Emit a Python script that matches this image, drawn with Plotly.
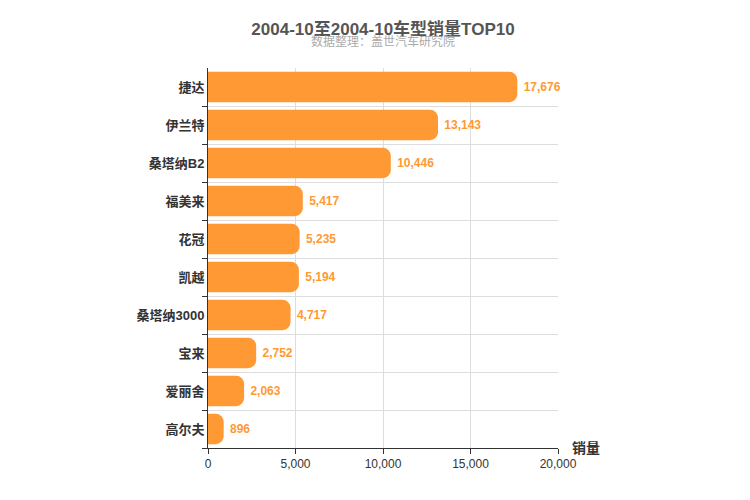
import plotly.graph_objects as go

# car models, top to bottom as in the chart
models = ['捷达', '伊兰特', '桑塔纳B2', '福美来', '花冠', '凯越', '桑塔纳3000', '宝来', '爱丽舍', '高尔夫']
sales = [17676, 13143, 10446, 5417, 5235, 5194, 4717, 2752, 2063, 896]

bar_color = '#ff9933'

fig = go.Figure()
fig.add_trace(go.Bar(
    x=sales,
    y=models,
    orientation='h',
    marker=dict(color=bar_color, cornerradius=8, line=dict(width=0)),
    text=['<b> {:,}</b>'.format(v) for v in sales],
    textposition='outside',
    textfont=dict(color=bar_color, size=12, family='Arial'),
    cliponaxis=False,
))

fig.update_layout(
    width=750, height=500,
    margin=dict(l=200, r=200, t=60, b=60, autoexpand=False),
    plot_bgcolor='white', paper_bgcolor='white',
    bargap=0.2,
    showlegend=False,
    font=dict(family='Arial, Noto Sans CJK SC', size=12, color='#333'),
    title=dict(text='<b>2004-10至2004-10车型销量TOP10</b>', x=0.5, xanchor='center',
               y=0.97, yanchor='top', font=dict(size=17, color='#555')),
)
# subtitle
fig.add_annotation(text='数据整理：盖世汽车研究院', x=0.5, y=1.07, xref='paper', yref='paper',
                   yanchor='middle', showarrow=False, font=dict(size=12, color='#aaa'))
# x axis name
fig.add_annotation(text='<b>销量</b>', x=20000, y=0, xref='x', yref='paper',
                   xanchor='left', yanchor='middle', xshift=12, showarrow=False,
                   font=dict(size=14, color='#333'))

fig.update_xaxes(range=[0, 20000], dtick=5000, tickformat=',', showgrid=True,
                 gridcolor='#ddd', showline=True, linecolor='#333', ticks='outside',
                 tickcolor='#333', zeroline=False, automargin=False)
fig.update_yaxes(categoryorder='array', categoryarray=models[::-1], tickson='boundaries',
                 showgrid=True, gridcolor='#ddd', showline=True, linecolor='#333',
                 ticks='outside', tickcolor='#333', ticklen=5, automargin=False,
                 tickfont=dict(size=13, color='#333'),
                 tickvals=models, ticktext=['<b>{}</b>'.format(m) for m in models])

fig.write_html('out.html')
